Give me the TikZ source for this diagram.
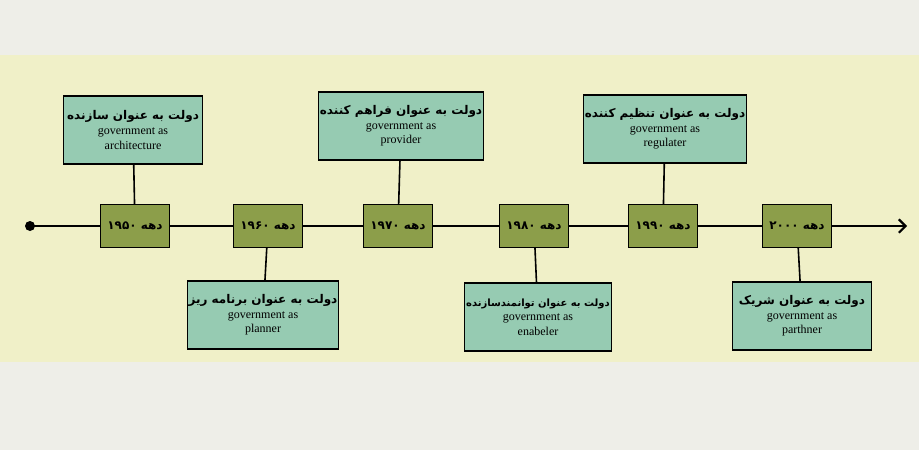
\documentclass[tikz,border=0pt]{standalone}
\usetikzlibrary{arrows.meta}
\usepackage{fontspec}
\setmainfont{Liberation Serif}
\newfontfamily\fa[Script=Arabic]{DejaVu Sans}
\TeXXeTstate=1
\newcommand{\rtl}[1]{{\fa\bfseries\beginR #1\endR}}
\begin{document}
\begin{tikzpicture}[x=0.75pt,y=-0.75pt,
 dec/.style={draw=black,line width=0.8pt,fill=dgreen,minimum width=52pt,minimum height=32pt,inner sep=0pt,font=\fontsize{9}{10}\selectfont},
 lab/.style={draw=black,line width=0.8pt,fill=tgreen,minimum width=104pt,minimum height=51pt,inner sep=1pt,align=center,font=\fontsize{9}{11}\selectfont},
 ln/.style={line width=1.6pt}]
\definecolor{dgreen}{HTML}{8C9E4A}
\definecolor{tgreen}{HTML}{96CBB2}
\definecolor{band}{HTML}{F0F0C8}
\definecolor{outer}{HTML}{EEEEE8}
\fill[outer] (0,0) rectangle (919,450);
\fill[band] (0,55) rectangle (919,362);
\coordinate (s) at (30,226);
\coordinate (e) at (907,226);
\draw[ln,-{Straight Barb[length=5pt,width=10pt]}] (s) -- (e);
\fill (s) circle (5);
\foreach \n/\x/\d in {1/135/۱۹۵۰,2/268/۱۹۶۰,3/398/۱۹۷۰,4/534/۱۹۸۰,5/663/۱۹۹۰,6/797/۲۰۰۰}
  \node[dec] (d\n) at (\x,226) {\rtl{دهه \d}};
\node[lab] (b1) at (133,130) {\rtl{دولت به عنوان سازنده}\\government as\\architecture};
\node[lab] (b2) at (263,315) {\rtl{دولت به عنوان برنامه ریز}\\government as\\planner};
\node[lab] (b3) at (401,126) {\rtl{دولت به عنوان فراهم کننده}\\government as\\provider};
\node[lab] (b4) at (538,317) {{\fontsize{7.5}{9}\selectfont\rtl{دولت به عنوان توانمندسازنده}}\\government as\\enabeler};
\node[lab] (b5) at (665,129) {\rtl{دولت به عنوان تنظیم کننده}\\government as\\regulater};
\node[lab] (b6) at (802,316) {\rtl{دولت به عنوان شریک}\\government as\\parthner};
\foreach \i in {1,...,6} \draw[ln,line width=1.2pt] (d\i) -- (b\i);
\end{tikzpicture}
\end{document}
